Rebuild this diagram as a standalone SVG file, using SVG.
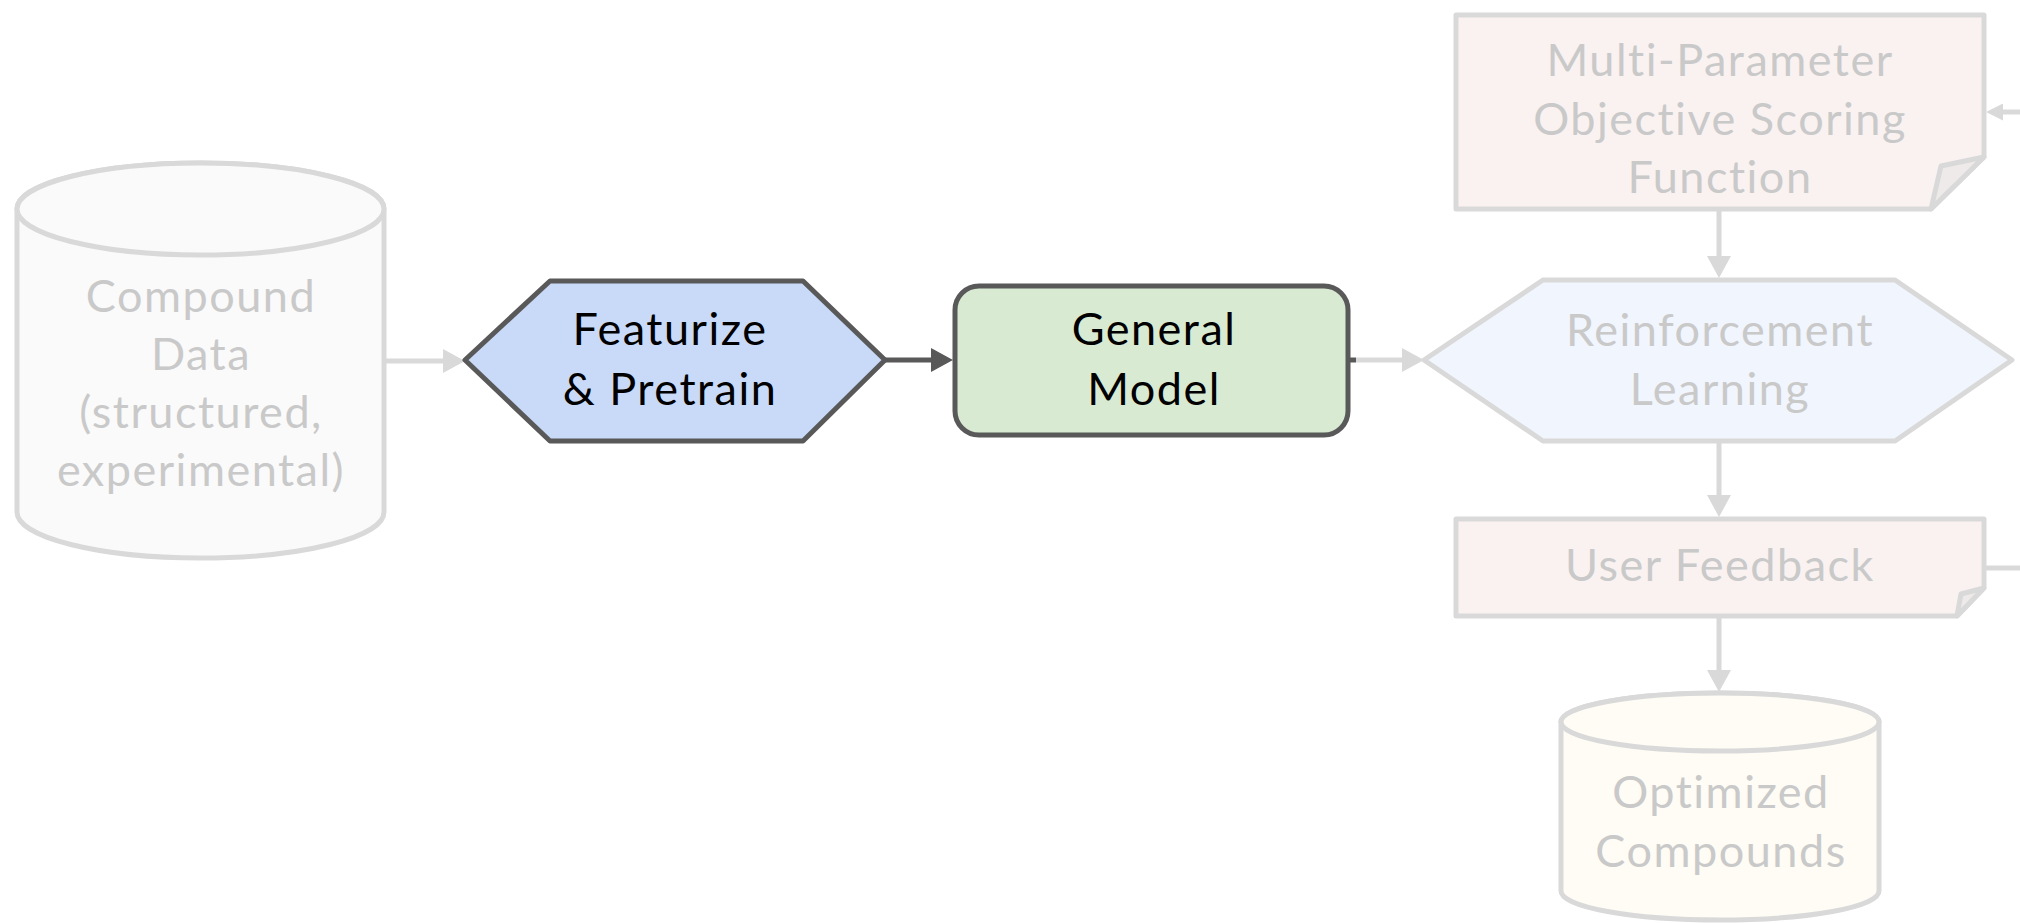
<svg xmlns="http://www.w3.org/2000/svg" width="2020" height="923" viewBox="0 0 2020 923">
  <style>
    .lbl { font-family: Lato, "Open Sans", "Liberation Sans", sans-serif; font-size: 45px; letter-spacing: 1.5px; font-variant-ligatures: none; text-anchor: middle; }
    .on { fill: #000000; }
    .off { fill: #c9c9c9; }
    .shape-on { stroke: #595959; stroke-width: 5; stroke-linejoin: round; }
    .shape-off { stroke: #d9d9d9; stroke-width: 5; stroke-linejoin: round; }
    .wire-on { stroke: #595959; stroke-width: 5; fill: none; }
    .wire-off { stroke: #d9d9d9; stroke-width: 5; fill: none; }
  </style>
  <defs>
    <marker id="head-on" viewBox="0 0 22 24" markerWidth="22" markerHeight="24" refX="10" refY="12" orient="auto" markerUnits="userSpaceOnUse">
      <path d="M0,0 L22,12 L0,24 Z" fill="#595959"/>
    </marker>
    <marker id="head-off" viewBox="0 0 22 24" markerWidth="22" markerHeight="24" refX="10" refY="12" orient="auto" markerUnits="userSpaceOnUse">
      <path d="M0,0 L22,12 L0,24 Z" fill="#d9d9d9"/>
    </marker>
    <marker id="head-off-sm" viewBox="0 0 17 17" markerWidth="17" markerHeight="17" refX="8" refY="8.5" orient="auto" markerUnits="userSpaceOnUse">
      <path d="M0,0 L17,8.5 L0,17 Z" fill="#d9d9d9"/>
    </marker>
  </defs>

  <!-- connectors -->
  <g id="connectors">
    <line class="wire-off" x1="384" y1="361" x2="453" y2="361" marker-end="url(#head-off)"/>
    <line class="wire-on" x1="885" y1="360" x2="941" y2="360" marker-end="url(#head-on)"/>
    <line class="wire-on" x1="1348" y1="360" x2="1356" y2="360"/>
    <line class="wire-off" x1="1356" y1="360" x2="1412" y2="360" marker-end="url(#head-off)"/>
    <line class="wire-off" x1="1719" y1="210" x2="1719" y2="266" marker-end="url(#head-off)"/>
    <line class="wire-off" x1="1719" y1="441" x2="1719" y2="505" marker-end="url(#head-off)"/>
    <line class="wire-off" x1="1719" y1="617" x2="1719" y2="680" marker-end="url(#head-off)"/>
    <path class="wire-off" d="M1984,568 H2050 V112 H1995" marker-end="url(#head-off-sm)"/>
  </g>

  <!-- Compound Data -->
  <g id="compound-data">
    <path class="shape-off" fill="#fafafa" d="M17,209 A183.5,46 0 0 1 384,209 L384,512 A183.5,46 0 0 1 17,512 Z"/>
    <ellipse class="shape-off" fill="#fafafa" cx="200.5" cy="209" rx="183.5" ry="46"/>
    <text class="lbl off" x="201" y="312">Compound</text>
    <text class="lbl off" x="201" y="370">Data</text>
    <text class="lbl off" x="201" y="428">(structured,</text>
    <text class="lbl off" x="201" y="486">experimental)</text>
  </g>

  <!-- Featurize & Pretrain -->
  <g id="featurize">
    <polygon class="shape-on" fill="#c9daf8" points="465,360 550,281 803,281 885,360 803,441 550,441"/>
    <text class="lbl on" x="670" y="345">Featurize</text>
    <text class="lbl on" x="670" y="405">&amp; Pretrain</text>
  </g>

  <!-- General Model -->
  <g id="general-model">
    <rect class="shape-on" fill="#d9ead3" x="955" y="286" width="393" height="149" rx="24" ry="24"/>
    <text class="lbl on" x="1154" y="345">General</text>
    <text class="lbl on" x="1154" y="405">Model</text>
  </g>

  <!-- Multi-Parameter Objective Scoring Function -->
  <g id="scoring-function">
    <path class="shape-off" fill="#f9f2f1" d="M1456,15 H1984 V157 L1931,209 H1456 Z"/>
    <path class="shape-off" fill="#eeeaea" d="M1984,157 L1941,166 L1931,209 Z"/>
    <text class="lbl off" x="1720" y="76">Multi-Parameter</text>
    <text class="lbl off" x="1720" y="135">Objective Scoring</text>
    <text class="lbl off" x="1720" y="193">Function</text>
  </g>

  <!-- Reinforcement Learning -->
  <g id="reinforcement-learning">
    <polygon class="shape-off" fill="#f1f5fd" points="1424,360 1543,280 1895,280 2012,360 1895,441 1543,441"/>
    <text class="lbl off" x="1720" y="346">Reinforcement</text>
    <text class="lbl off" x="1720" y="405">Learning</text>
  </g>

  <!-- User Feedback -->
  <g id="user-feedback">
    <path class="shape-off" fill="#f9f2f1" d="M1456,519 H1984 V588 L1957,616 H1456 Z"/>
    <path class="shape-off" fill="#eeeaea" d="M1984,588 L1961,594 L1957,616 Z"/>
    <text class="lbl off" x="1720" y="581">User Feedback</text>
  </g>

  <!-- Optimized Compounds -->
  <g id="optimized-compounds">
    <path class="shape-off" fill="#fefcf4" d="M1561,722 A159,29 0 0 1 1879,722 L1879,891 A159,29 0 0 1 1561,891 Z"/>
    <ellipse class="shape-off" fill="#fefcf4" cx="1720" cy="722" rx="159" ry="29"/>
    <text class="lbl off" x="1721" y="808">Optimized</text>
    <text class="lbl off" x="1721" y="867">Compounds</text>
  </g>
</svg>
